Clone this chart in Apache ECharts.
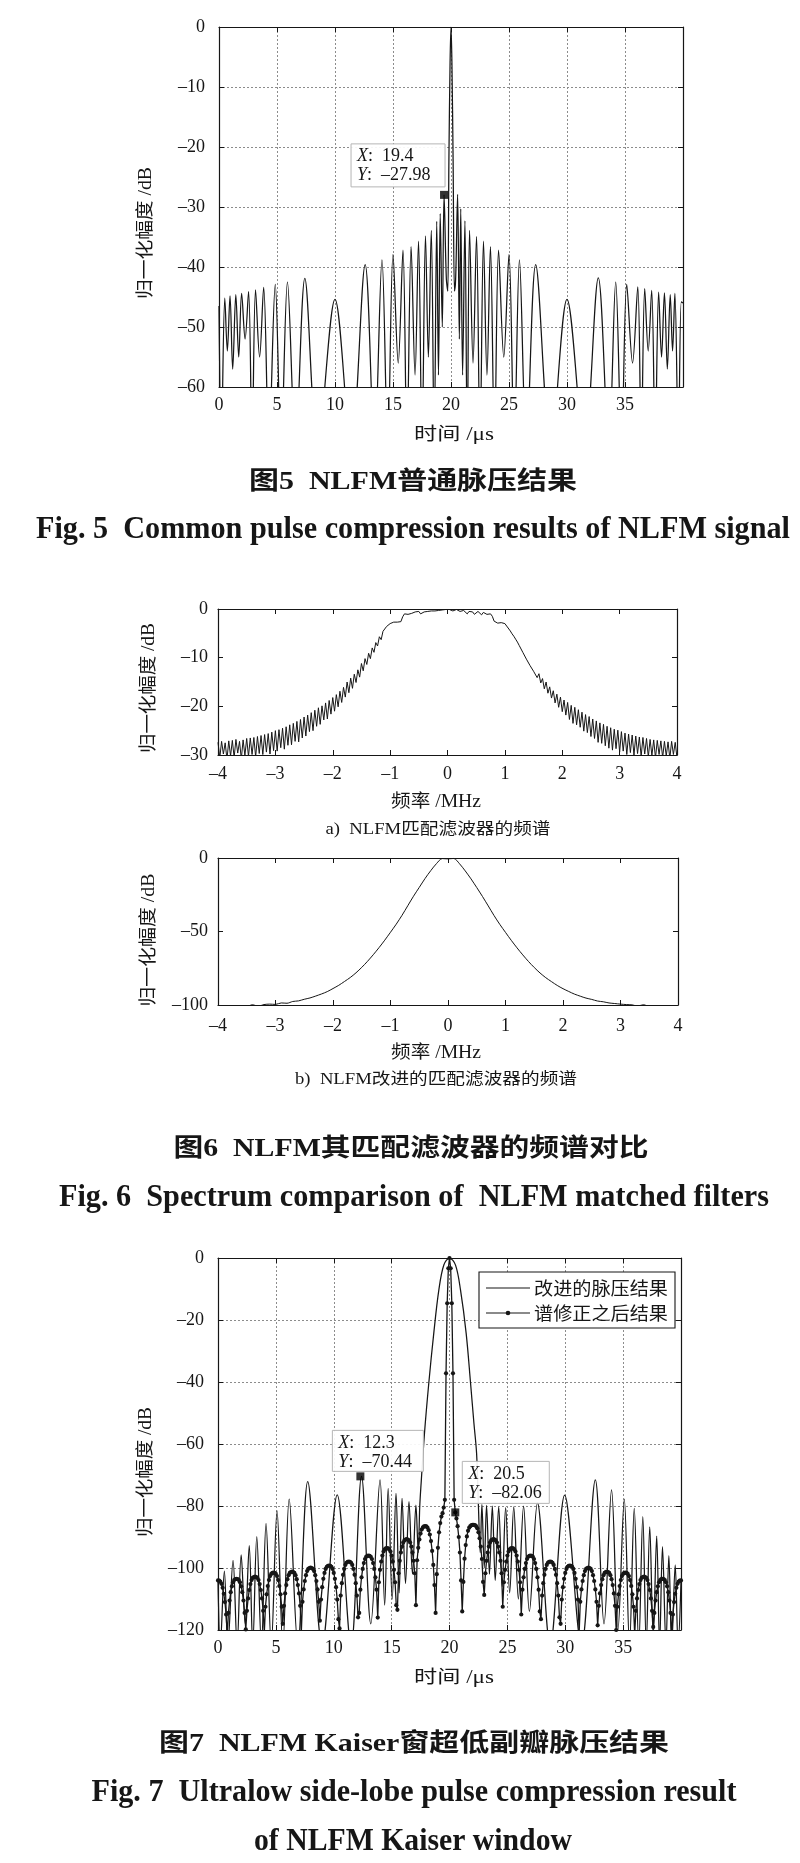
<!DOCTYPE html>
<html><head><meta charset="utf-8">
<script src="https://cdn.jsdelivr.net/npm/echarts@6/dist/echarts.min.js"></script>
<style>html,body{margin:0;padding:0;background:#fff}#chart{width:800px;height:1863px}</style>
</head><body><div id="chart"></div>
<script>
// ---------------- data ----------------
// Fig.5 : common pulse compression, time (us) / normalised amplitude (dB)
const FIG5_T = [0,0.2,0.5,0.72,0.95,1.18,1.45,1.7,1.95,2.25,2.55,2.85,3.15,3.5,3.85,4.3,4.85,5.35,5.9,6.6,7.4,8.5,10.0,11.4,12.6,13.4,14.05,14.55,15.0,15.45,15.86,16.2,16.56,16.9,17.2,17.5,17.8,18.05,18.3,18.55,18.77,18.92,19.07,19.25,19.4,19.6,19.72,19.82,19.92,20.0,20.08,20.18,20.3,20.4,20.57,20.72,20.84,21.0,21.2,21.4,21.6,21.9,22.2,22.5,22.8,23.1,23.4,23.75,24.1,24.55,25.0,25.45,25.9,26.5,27.3,28.6,30.0,31.5,32.7,33.6,34.2,34.7,35.15,35.65,36.1,36.4,36.7,37.0,37.3,37.6,37.9,38.15,38.4,38.65,38.9,39.1,39.3,39.6,39.85,40];
const FIG5_DB = [-46.5,-70,-45.2,-54,-44.8,-57,-44.6,-55,-44.4,-52,-44.1,-70,-43.8,-55,-43.4,-70,-42.9,-70,-42.5,-70,-41.9,-70,-45.4,-70,-39.6,-70,-38.8,-70,-37.9,-56,-37.2,-70,-36.6,-58,-35.7,-70,-34.8,-55,-33.9,-70,-32.4,-58,-31.1,-50,-27.98,-42,-44,-22,-6,0,-6,-22,-44,-42,-27.9,-52,-30.3,-58,-32.3,-70,-33.9,-56,-34.9,-70,-35.7,-58,-36.6,-70,-37.2,-55,-37.9,-70,-38.8,-70,-39.6,-70,-45.4,-70,-41.8,-70,-42.5,-70,-42.9,-56,-43.3,-70,-43.6,-54,-43.9,-70,-44.2,-55,-44.3,-57,-44.6,-54,-44.4,-70,-45.8,-46];
const FIG5_TIP = [19.4, -27.98];

// Fig.6a : spectrum of NLFM matched filter, sampled every 1/32 MHz from -4 MHz
const FIG6A_F0 = -4, FIG6A_DF = 1/32;
const FIG6A_DB = [
-27.4,-30.6,-27.2,-29.8,-27.5,-30.9,-27.1,-30.2,
-27.0,-30.5,-26.8,-29.6,-27.2,-30.8,-26.9,-30.1,
-26.6,-30.3,-26.5,-29.9,-26.4,-30.4,-26.2,-29.7,
-26.0,-29.9,-25.8,-29.4,-25.6,-29.8,-25.3,-29.1,
-25.0,-29.2,-24.8,-28.5,-24.5,-28.8,-24.2,-28.0,
-23.8,-27.9,-23.5,-27.2,-23.1,-27.3,-22.7,-26.5,
-22.2,-26.1,-21.8,-25.2,-21.3,-25.0,-20.8,-24.1,
-20.3,-23.7,-19.9,-22.8,-19.3,-22.6,-18.8,-21.6,
-18.2,-21.0,-17.6,-20.1,-16.9,-19.2,-16.1,-18.1,
-15.0,-17.2,-14.2,-16.3,-13.4,-15.1,-12.5,-14.0,
-11.2,-12.7,-10.2,-11.4,-9.1,-10.2,-8.0,-8.9,
-6.9,-7.6,-5.7,-6.3,-4.6,-5.0,-3.6,-3.9,
-3.0,-2.8,-2.7,-2.9,-2.7,-2.8,-2.6,-1.6,
-1.0,-0.8,-1.1,-0.7,-0.9,-1.2,-0.6,-0.8,
-0.5,-1.0,-1.3,-0.6,-0.3,-0.5,-0.9,-0.4,
-0.2,-0.4,-0.6,-0.3,-0.1,-0.2,-0.3,-0.1,
0,
-0.1,-0.2,-0.4,-0.3,-0.1,-0.3,-0.5,-0.2,
-0.3,-0.7,-1.0,-0.5,-0.2,-0.6,-1.1,-0.9,
-0.5,-0.8,-1.2,-0.7,-0.9,-1.1,-0.8,-1.0,
-1.5,-2.5,-2.7,-2.9,-2.6,-2.8,-2.7,-3.0,
-3.5,-3.9,-4.5,-5.1,-5.6,-6.2,-6.8,-7.5,
-7.9,-8.9,-9.0,-10.3,-10.1,-11.6,-11.2,-12.8,
-12.4,-14.1,-13.3,-15.2,-14.3,-16.4,-15.0,-17.3,
-16.0,-18.3,-16.8,-19.3,-17.5,-20.2,-18.1,-21.1,
-18.7,-21.8,-19.2,-22.7,-19.8,-23.5,-20.2,-23.8,
-20.7,-24.3,-21.2,-25.1,-21.7,-25.4,-22.1,-26.2,
-22.6,-26.6,-23.0,-27.4,-23.4,-27.6,-23.7,-28.1,
-24.1,-28.6,-24.4,-29.0,-24.7,-28.7,-24.9,-29.4,
-25.2,-29.2,-25.5,-29.9,-25.7,-29.5,-25.9,-30.0,
-26.1,-29.7,-26.3,-30.3,-26.4,-29.8,-26.6,-30.4,
-26.8,-30.1,-26.9,-30.6,-27.0,-29.9,-27.1,-30.5,
-27.2,-30.2,-27.3,-30.7,-27.2,-29.9,-27.4,-30.6];

// Fig.6b : spectrum of improved matched filter, every 0.1 MHz from -3.5 MHz
const FIG6B_F0 = -3.5, FIG6B_DF = 0.1;
const FIG6B_DB = [-101.5,-99.8,-100.8,-99.7,-99.4,-99.6,-98.6,-98.8,-97.6,-97.2,
-96.1,-95.2,-93.9,-92.5,-90.9,-88.8,-86.6,-84.0,-81.3,-78.1,
-74.4,-70.3,-65.8,-61.0,-55.9,-50.5,-45.0,-39.0,-32.5,-26.0,
-20.0,-14.0,-8.6,-3.8,-0.4,-0.6,-0.3,-3.9,-8.8,-14.2,
-20.1,-26.2,-32.6,-39.1,-45.1,-50.6,-56.0,-61.1,-65.9,-70.4,
-74.5,-78.2,-81.4,-84.1,-86.7,-88.9,-90.8,-92.6,-94.0,-95.3,
-96.2,-97.3,-97.8,-98.6,-99.0,-99.4,-99.7,-99.9,-100.7,-99.8,-101.5];

// Fig.7 : improved pulse compression (solid)
const FIG7_T = [0,0.2,0.55,0.85,1.3,1.65,2.0,2.35,2.7,3.0,3.35,3.75,4.15,4.6,5.1,5.6,6.15,6.9,7.75,9.0,10.3,11.5,12.4,13.2,14.0,14.4,14.7,15.05,15.38,15.65,15.9,16.2,16.5,16.8,17.1,17.3,17.43,17.55,17.84,18.21,18.64,19.08,19.51,20.0,20.52,20.95,21.44,21.82,22.11,22.34,22.5,22.65,22.8,23.0,23.2,23.45,23.7,23.95,24.25,24.55,24.85,25.2,25.55,25.95,26.4,26.9,27.6,28.7,29.95,31.4,32.6,33.35,34.0,34.55,35.1,35.55,35.96,36.35,36.7,37.0,37.3,37.6,37.9,38.15,38.4,38.7,38.95,39.2,39.5,39.75,40];
const FIG7_DB = [-104.5,-125,-101,-125,-97.5,-125,-95.8,-118,-92.8,-125,-89.9,-125,-85.6,-125,-81.6,-125,-77.8,-125,-72.1,-125,-76.4,-125,-70.44,-118,-71.6,-112,-74.3,-110,-75.9,-108,-77.5,-105,-78.6,-102,-79.7,-95,-80.1,-72.6,-56.5,-40.4,-24.3,-10.3,-2.26,0,-2.3,-10.3,-24.3,-40.4,-53.3,-63,-80,-95,-79.5,-100,-79.8,-102,-80,-104,-80.3,-106,-80.5,-108,-80.3,-110,-80,-114,-79,-125,-76.5,-125,-71.6,-118,-74.8,-120,-77.8,-125,-80.8,-125,-83.4,-125,-86.7,-122,-89.7,-125,-93.1,-125,-96,-125,-99,-125,-104.5];
// Fig.7 : result after spectrum correction (dotted), one sample every 0.1 us
const FIG7D_T0 = 0, FIG7D_DT = 0.1;
const FIG7D_DB = [
-104.0,-104.1,-104.4,-105.1,-106.4,-108.3,-111.0,-115.0,-121.5,-114.5,
-110.5,-107.8,-105.9,-104.6,-103.9,-103.6,-103.5,-103.6,-103.9,-104.6,
-105.9,-107.8,-110.5,-114.5,-119.8,-113.8,-109.8,-107.1,-105.2,-103.9,
-103.2,-102.9,-102.8,-102.9,-103.2,-103.9,-105.2,-107.1,-109.8,-113.8,
-121.0,-112.5,-108.5,-105.8,-103.9,-102.6,-101.9,-101.6,-101.5,-101.6,
-101.9,-102.6,-103.9,-105.8,-108.5,-112.5,-118.0,-112.2,-108.2,-105.5,
-103.6,-102.3,-101.6,-101.3,-101.2,-101.3,-101.6,-102.3,-103.6,-105.5,
-108.2,-112.2,-120.5,-110.9,-106.9,-104.2,-102.3,-101.0,-100.3,-100.0,
-99.9,-100.0,-100.3,-101.0,-102.3,-104.2,-106.9,-110.9,-117.0,-110.2,
-106.2,-103.5,-101.6,-100.3,-99.6,-99.3,-99.2,-99.3,-99.6,-100.3,
-101.6,-103.5,-106.2,-110.2,-116.5,-119.5,-108.9,-104.9,-102.2,-100.3,
-99.0,-98.3,-98.0,-97.9,-98.0,-98.3,-99.0,-100.3,-102.2,-104.9,
-108.9,-115.9,-114.5,-107.0,-103.0,-100.3,-98.4,-97.1,-96.4,-96.1,
-96.0,-96.1,-96.4,-97.1,-98.4,-100.3,-103.0,-107.0,-116.0,-104.6,
-100.6,-97.9,-96.0,-94.7,-94.0,-93.7,-93.6,-93.7,-94.0,-94.7,
-96.0,-97.9,-100.6,-104.6,-112.0,-113.5,-101.7,-97.7,-95.0,-93.1,
-91.8,-91.1,-90.8,-90.7,-90.8,-91.1,-91.8,-93.1,-95.0,-97.7,
-101.7,-112.0,-97.5,-93.5,-90.8,-88.9,-87.6,-86.9,-86.6,-86.5,
-86.6,-87.0,-87.8,-89.2,-91.3,-94.5,-99.0,-105.5,-114.5,-102.0,
-93.5,-88.5,-85.5,-83.4,-82.3,-80.5,-78.0,-37.2,-14.6,-3.3,
0,-3.3,-14.6,-37.2,-78.0,-82.06,-84.0,-86.5,-90.0,-95.0,
-104.0,-114.0,-104.5,-97.0,-92.6,-89.8,-88.0,-87.0,-86.5,-86.2,
-86.1,-86.1,-86.2,-86.5,-87.2,-88.5,-90.4,-93.1,-97.1,-104.5,
-108.7,-101.7,-97.7,-95.0,-93.1,-91.8,-91.1,-90.8,-90.7,-90.8,
-91.1,-91.8,-93.1,-95.0,-97.7,-101.7,-112.5,-104.6,-100.6,-97.9,
-96.0,-94.7,-94.0,-93.7,-93.6,-93.7,-94.0,-94.7,-96.0,-97.9,
-100.6,-104.6,-115.0,-107.0,-103.0,-100.3,-98.4,-97.1,-96.4,-96.1,
-96.0,-96.1,-96.4,-97.1,-98.4,-100.3,-103.0,-107.0,-114.0,-116.5,
-108.9,-104.9,-102.2,-100.3,-99.0,-98.3,-98.0,-97.9,-98.0,-98.3,
-99.0,-100.3,-102.2,-104.9,-108.9,-115.9,-118.0,-110.2,-106.2,-103.5,
-101.6,-100.3,-99.6,-99.3,-99.2,-99.3,-99.6,-100.3,-101.6,-103.5,
-106.2,-110.2,-121.0,-110.9,-106.9,-104.2,-102.3,-101.0,-100.3,-100.0,
-99.9,-100.0,-100.3,-101.0,-102.3,-104.2,-106.9,-110.9,-118.5,-112.2,
-108.2,-105.5,-103.6,-102.3,-101.6,-101.3,-101.2,-101.3,-101.6,-102.3,
-103.6,-105.5,-108.2,-112.2,-120.0,-112.5,-108.5,-105.8,-103.9,-102.6,
-101.9,-101.6,-101.5,-101.6,-101.9,-102.6,-103.9,-105.8,-108.5,-112.5,
-121.5,-113.8,-109.8,-107.1,-105.2,-103.9,-103.2,-102.9,-102.8,-102.9,
-103.2,-103.9,-105.2,-107.1,-109.8,-113.8,-119.0,-114.5,-110.5,-107.8,
-105.9,-104.6,-103.9,-103.6,-103.5,-103.6,-103.9,-104.6,-105.9,-107.8,
-110.5,-114.5,-121.5,-115.0,-111.0,-108.3,-106.4,-105.1,-104.4,-104.1,
-104.0];
const FIG7_TIPS = [[12.3, -70.44], [20.5, -82.06]];
const FIG7_NAMES = ['改进的脉压结果', '谱修正之后结果'];

// ---------------- rendering ----------------
const SERIF = "'Liberation Serif','Noto Sans CJK SC',serif";
const INK = '#161616';
const dash = v => String(v).replace('-', '\u2013');
const pairs = (xs, ys) => ys.map((y, i) => [xs[i], y]);
const sampled = (x0, dx, ys) => ys.map((y, i) => [+(x0 + i * dx).toFixed(5), y]);

const GRIDS = [
  {left: 219, top: 27, width: 464, height: 360},
  {left: 218, top: 609, width: 459, height: 146},
  {left: 218, top: 858, width: 460, height: 147},
  {left: 218, top: 1258, width: 463, height: 372}
];
const AX = [
  {x: [0, 40, 5], y: [-60, 0, 10], grid: true, xm: 9, ym: 14, hideMaxX: true},
  {x: [-4, 4, 1], y: [-30, 0, 10], grid: false, xm: 10, ym: 10, hideMaxX: false},
  {x: [-4, 4, 1], y: [-100, 0, 50], grid: false, xm: 12, ym: 10, hideMaxX: false},
  {x: [0, 40, 5], y: [-120, 0, 20], grid: true, xm: 9, ym: 14, hideMaxX: true}
];
const xAxes = [], yAxes = [];
AX.forEach((a, g) => {
  const line = {show: true, onZero: false, lineStyle: {color: INK, width: 1.2}};
  const tick = {show: true, inside: true, length: 5, lineStyle: {color: INK, width: 1}};
  const split = {show: a.grid, lineStyle: {type: [2, 2], color: '#8c8c8c', width: 1}};
  const lab = {fontFamily: SERIF, fontSize: 18, color: INK, formatter: dash};
  xAxes.push({type: 'value', gridIndex: g, position: 'bottom', min: a.x[0], max: a.x[1], interval: a.x[2],
    axisLine: line, axisTick: tick, splitLine: split,
    axisLabel: Object.assign({margin: a.xm, showMaxLabel: !a.hideMaxX}, lab)});
  xAxes.push({type: 'value', gridIndex: g, position: 'top', min: a.x[0], max: a.x[1], interval: a.x[2],
    axisLine: line, axisTick: tick, splitLine: {show: false}, axisLabel: {show: false}});
  yAxes.push({type: 'value', gridIndex: g, position: 'left', min: a.y[0], max: a.y[1], interval: a.y[2],
    axisLine: line, axisTick: tick, splitLine: split,
    axisLabel: Object.assign({margin: a.ym}, lab)});
  yAxes.push({type: 'value', gridIndex: g, position: 'right', min: a.y[0], max: a.y[1], interval: a.y[2],
    axisLine: line, axisTick: tick, splitLine: {show: false}, axisLabel: {show: false}});
});

const lineSeries = (g, data, extra) => Object.assign({
  type: 'line', xAxisIndex: 2 * g, yAxisIndex: 2 * g, data, showSymbol: false, symbol: 'none',
  lineStyle: {color: INK, width: 1.25}, itemStyle: {color: INK}, clip: true, animation: false, silent: true, z: 3
}, extra || {});

const series = [
  lineSeries(0, pairs(FIG5_T, FIG5_DB), {smooth: 0.35}),
  lineSeries(1, sampled(FIG6A_F0, FIG6A_DF, FIG6A_DB), {lineStyle: {color: INK, width: 1}}),
  lineSeries(2, sampled(FIG6B_F0, FIG6B_DF, FIG6B_DB), {smooth: 0.3, lineStyle: {color: INK, width: 1}}),
  lineSeries(3, pairs(FIG7_T, FIG7_DB), {smooth: 0.35, name: FIG7_NAMES[0]}),
  lineSeries(3, sampled(FIG7D_T0, FIG7D_DT, FIG7D_DB), {name: FIG7_NAMES[1], symbol: 'circle', symbolSize: 4.2,
    showSymbol: true, showAllSymbol: true, lineStyle: {color: INK, width: 1.3}, itemStyle: {color: INK}}),
  {type: 'scatter', xAxisIndex: 0, yAxisIndex: 0, data: [FIG5_TIP], symbol: 'rect', symbolSize: 8,
    itemStyle: {color: '#000'}, z: 10, silent: true, animation: false},
  {type: 'scatter', xAxisIndex: 6, yAxisIndex: 6, data: FIG7_TIPS, symbol: 'rect', symbolSize: 8,
    itemStyle: {color: '#000'}, z: 10, silent: true, animation: false}
];

const chart = echarts.init(document.getElementById('chart'), null, {renderer: 'canvas'});
chart.setOption({
  backgroundColor: '#fff', animation: false,
  grid: GRIDS, xAxis: xAxes, yAxis: yAxes, series
});

// ---------- text (titles, captions, legend, data tips) ----------
const ctx = document.createElement('canvas').getContext('2d');
function txt(text, x, y, font, width, rot, align) {
  ctx.font = font;
  const s = width ? width / ctx.measureText(text).width : 1;
  return {type: 'text', x, y, rotation: rot || 0, scaleX: s, z: 50,
    style: {text, font, fill: INK, textAlign: align || 'center', textVerticalAlign: 'middle'}};
}
const F_AX = "18px " + SERIF;
const F_CN = "bold 25px " + SERIF;
const F_EN = "bold 31px 'Liberation Serif',serif";
const graphics = [
  txt('归一化幅度 /dB', 146, 233, F_AX, 132, Math.PI / 2),
  txt('时间 /μs', 454, 435, F_AX, 80),
  txt('图5  NLFM普通脉压结果', 413, 483, F_CN, 328),
  txt('Fig. 5  Common pulse compression results of NLFM signal', 413, 530, F_EN, 754),
  txt('归一化幅度 /dB', 149, 688, F_AX, 130, Math.PI / 2),
  txt('频率 /MHz', 436, 802, F_AX, 90),
  txt('a)  NLFM匹配滤波器的频谱', 438, 830, "16px " + SERIF, 225),
  txt('归一化幅度 /dB', 149, 940, F_AX, 133, Math.PI / 2),
  txt('频率 /MHz', 436, 1053, F_AX, 90),
  txt('b)  NLFM改进的匹配滤波器的频谱', 436, 1080, "16px " + SERIF, 282),
  txt('图6  NLFM其匹配滤波器的频谱对比', 411, 1150, F_CN, 475),
  txt('Fig. 6  Spectrum comparison of  NLFM matched filters', 414, 1198, F_EN, 710),
  txt('归一化幅度 /dB', 146, 1472, F_AX, 130, Math.PI / 2),
  txt('时间 /μs', 454, 1678, F_AX, 80),
  txt('图7  NLFM Kaiser窗超低副瓣脉压结果', 414, 1745, F_CN, 510),
  txt('Fig. 7  Ultralow side-lobe pulse compression result', 414, 1793, F_EN, 645),
  txt('of NLFM Kaiser window', 413, 1842, F_EN, 318)
];
// legend of Fig.7 (box, line samples, names)
const LG = {x: 479, y: 1272, w: 196, h: 56, rows: [16, 41]};
graphics.push({type: 'rect', z: 40, shape: {x: LG.x, y: LG.y, width: LG.w, height: LG.h},
  style: {fill: '#fff', stroke: INK, lineWidth: 1.1}});
FIG7_NAMES.forEach((n, k) => {
  const yy = LG.y + LG.rows[k];
  graphics.push({type: 'line', z: 41, shape: {x1: LG.x + 7, y1: yy, x2: LG.x + 51, y2: yy},
    style: {stroke: INK, lineWidth: 1.2}});
  if (k === 1) graphics.push({type: 'circle', z: 42, shape: {cx: LG.x + 29, cy: yy, r: 2.3}, style: {fill: INK}});
  graphics.push(txt(n, LG.x + 55, yy, "18px 'Noto Sans CJK SC'", 134, 0, 'left'));
});
function tip(gi, pt, dx, dy, w, h) {
  const p = chart.convertToPixel({gridIndex: gi}, pt);
  const bx = p[0] + dx, by = p[1] + dy;
  graphics.push({type: 'rect', z: 40, shape: {x: bx, y: by, width: w, height: h},
    style: {fill: 'rgba(255,255,255,0.92)', stroke: '#b5b5b5', lineWidth: 1}});
  graphics.push({type: 'text', z: 41, x: bx + 6, y: by + 3,
    style: {text: '{i|X}:  ' + pt[0] + '\n{i|Y}:  ' + dash(pt[1]), font: "18px 'Liberation Serif',serif",
      fill: INK, lineHeight: 19, textVerticalAlign: 'top',
      rich: {i: {fontStyle: 'italic', fontFamily: 'Liberation Serif', fontSize: 18, fill: INK, lineHeight: 19}}}});
}
tip(0, FIG5_TIP, -93, -51, 94, 43);
tip(3, FIG7_TIPS[0], -28, -46, 91, 41);
tip(3, FIG7_TIPS[1], 7, -51, 87, 42);
chart.setOption({graphic: graphics});
</script></body></html>
